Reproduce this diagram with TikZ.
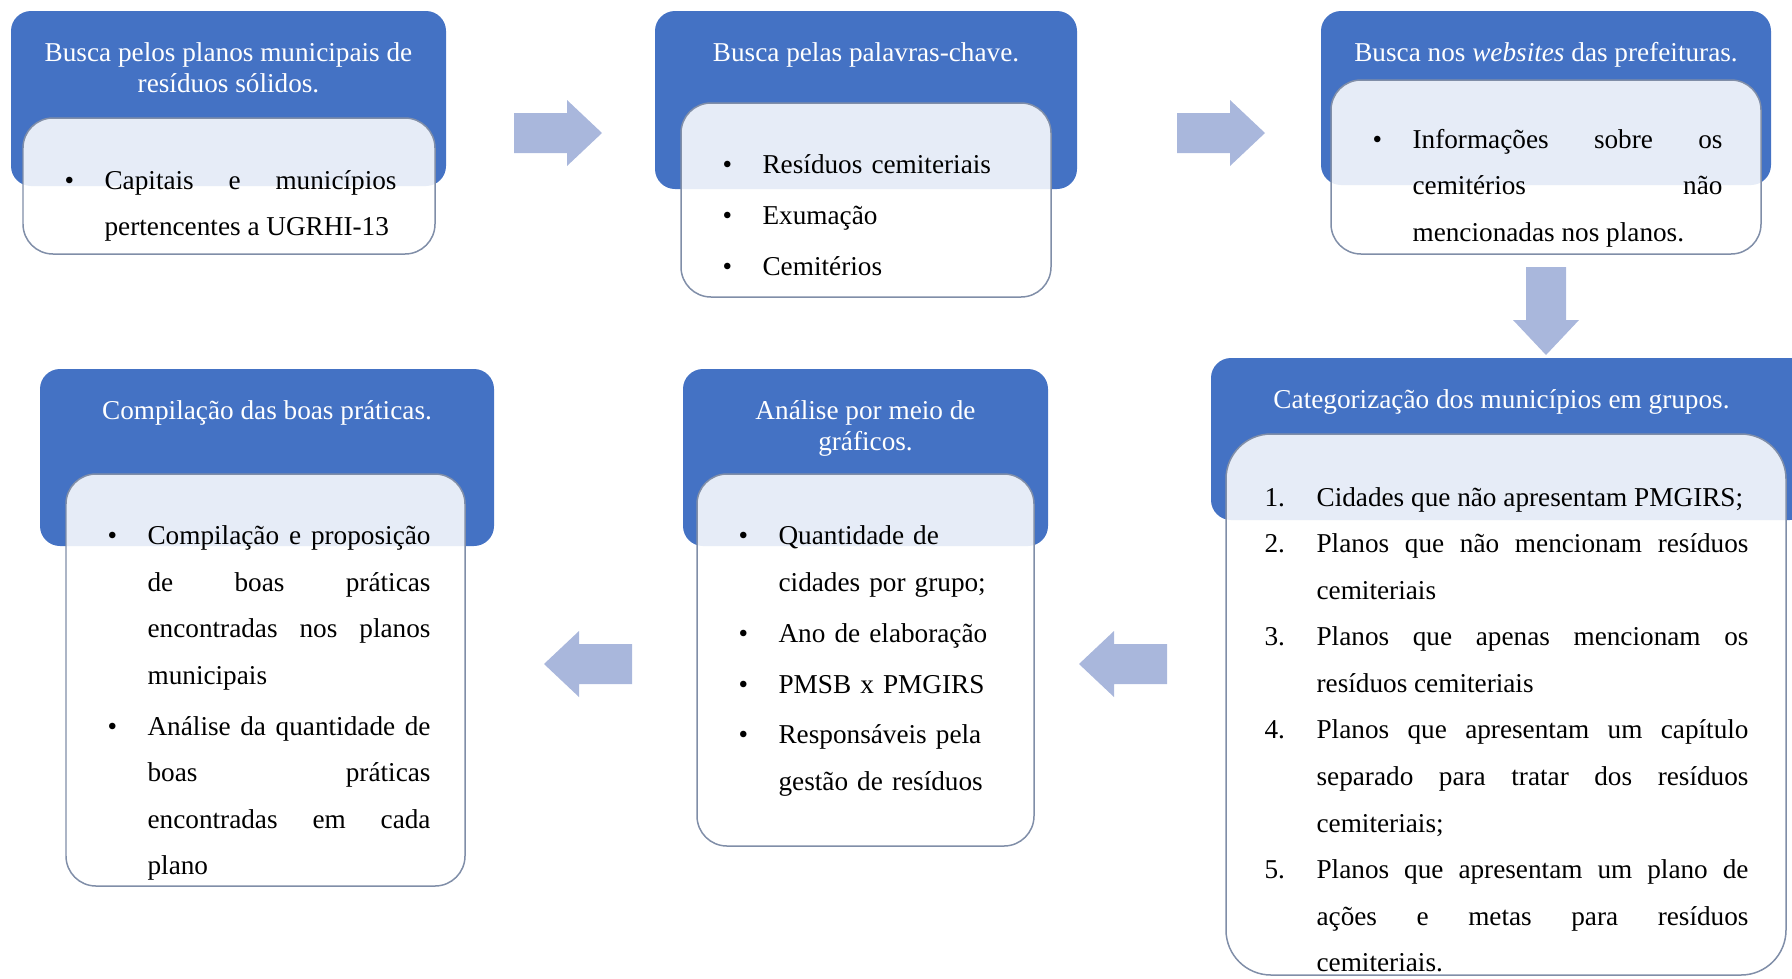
\documentclass[tikz,border=0pt]{standalone}
\usepackage{fontspec}
\setmainfont{Liberation Serif}
\usetikzlibrary{fit,calc,positioning}

\definecolor{azul}{RGB}{68,114,196}
\definecolor{borda}{RGB}{128,142,168}
\definecolor{setacor}{RGB}{169,183,220}

\tolerance=10000
\hyphenpenalty=10000

% item com marcador (bullet) e item numerado
\newcommand{\espaco}{\setlength{\parskip}{2.5pt}}
\newcommand{\marca}[1]{\par\noindent\hangindent=1.64cm\hangafter=1\makebox[1.64cm][l]{\hspace{0.84cm}\textbullet}\strut #1\par}
\newcommand{\numero}[2]{\par\noindent\hangindent=1.82cm\hangafter=1\makebox[1.82cm][l]{\hspace{0.78cm}#1}\strut #2\par}

\tikzset{
  cabeca/.style={fill=azul, rounded corners=0.4cm, inner sep=0pt},
  caixa/.style={draw=borda, line width=0.85pt, fill=white, fill opacity=0.87, rounded corners=0.6cm, inner sep=0pt},
  titulo/.style={text=white, align=center, inner sep=0pt, font=\fontsize{15.5}{17.6}\selectfont},
  lista/.style={inner sep=0pt, align=justify, font=\fontsize{15.5}{26.5}\selectfont},
  bloco/.pic={\fill[setacor] (-44,-20) -- (9,-20) -- (9,-33) -- (44,0) -- (9,33) -- (9,20) -- (-44,20) -- cycle;}
}

\begin{document}
\begin{tikzpicture}[x=0.02cm, y=-0.02cm]
\useasboundingbox (0,0) rectangle (1792,978);

% linha de cima
\node[cabeca, fit={(11,11) (446,186)}] (h1) {};
\node[titulo, below=0.58cm of h1.north] (t1) {\strut Busca pelos planos municipais de\\resíduos sólidos.};
\node[caixa, fit={(23,118) (435,254)}] (c1) {};
\node[lista, text width=7.48cm, below right=0.50cm and 0cm of c1.north west] (l1) {%
\marca{Capitais e municípios\linebreak pertencentes a UGRHI-13}};

\node[cabeca, fit={(655,11) (1077,189)}] (h2) {};
\node[titulo, below=0.58cm of h2.north] (t2) {\strut Busca pelas palavras-chave.};
\node[caixa, fit={(681,103) (1051,297)}] (c2) {};
\node[lista, align=left, text width=6.64cm, below right=0.40cm and 0cm of c2.north west] (l2) {\espaco
\marca{Resíduos cemiteriais}
\marca{Exumação}
\marca{Cemitérios}};

\node[cabeca, fit={(1321,11) (1771,185)}] (h3) {};
\node[titulo, below=0.58cm of h3.north] (t3) {\strut Busca nos \textit{websites} das prefeituras.};
\node[caixa, fit={(1331,80) (1761,254)}] (c3) {};
\node[lista, text width=7.84cm, below right=0.44cm and 0cm of c3.north west] (l3) {%
\marca{Informações sobre os\linebreak cemitérios não\linebreak mencionadas nos planos.}};

% linha de baixo
\node[cabeca, fit={(1211,358) (1810,520)}] (h4) {};
\node[titulo, below=0.58cm of h4.north, xshift=-0.18cm] (t4) {\strut Categorização dos municípios em grupos.};
\node[caixa, rounded corners=0.9cm, fit={(1226,434) (1786,975)}] (c4) {};
\node[lista, text width=10.46cm, below right=0.52cm and 0cm of c4.north west] (l4) {%
\numero{1.}{Cidades que não apresentam PMGIRS;}
\numero{2.}{Planos que não mencionam resíduos\linebreak cemiteriais}
\numero{3.}{Planos que apenas mencionam os\linebreak resíduos cemiteriais}
\numero{4.}{Planos que apresentam um capítulo\linebreak separado para tratar dos resíduos\linebreak cemiteriais;}
\numero{5.}{Planos que apresentam um plano de\linebreak ações e metas para resíduos\linebreak cemiteriais.}};

\node[cabeca, fit={(683,369) (1048,546)}] (h5) {};
\node[titulo, below=0.58cm of h5.north] (t5) {\strut Análise por meio de\\gráficos.};
\node[caixa, fit={(697,474) (1034,846)}] (c5) {};
\node[lista, align=left, text width=5.98cm, below right=0.40cm and 0cm of c5.north west] (l5) {\espaco
\marca{Quantidade de\newline cidades por grupo;}
\marca{Ano de elaboração}
\marca{PMSB x PMGIRS}
\marca{Responsáveis pela\newline gestão de resíduos}};

\node[cabeca, fit={(40,369) (494,546)}] (h6) {};
\node[titulo, below=0.58cm of h6.north] (t6) {\strut Compilação das boas práticas.};
\node[caixa, fit={(66,474) (465,886)}] (c6) {};
\node[lista, text width=7.30cm, below right=0.40cm and 0cm of c6.north west] (l6) {\espaco
\marca{Compilação e proposição\linebreak de boas práticas\linebreak encontradas nos planos\linebreak municipais}
\marca{Análise da quantidade de\linebreak boas práticas\linebreak encontradas em cada\linebreak plano}};

% setas
\pic at (558,133) {bloco};
\pic at (1221,133) {bloco};
\pic[rotate=-90] at (1546,311) {bloco};
\pic[rotate=180] at (1123,664) {bloco};
\pic[rotate=180] at (588,664) {bloco};
\end{tikzpicture}
\end{document}
